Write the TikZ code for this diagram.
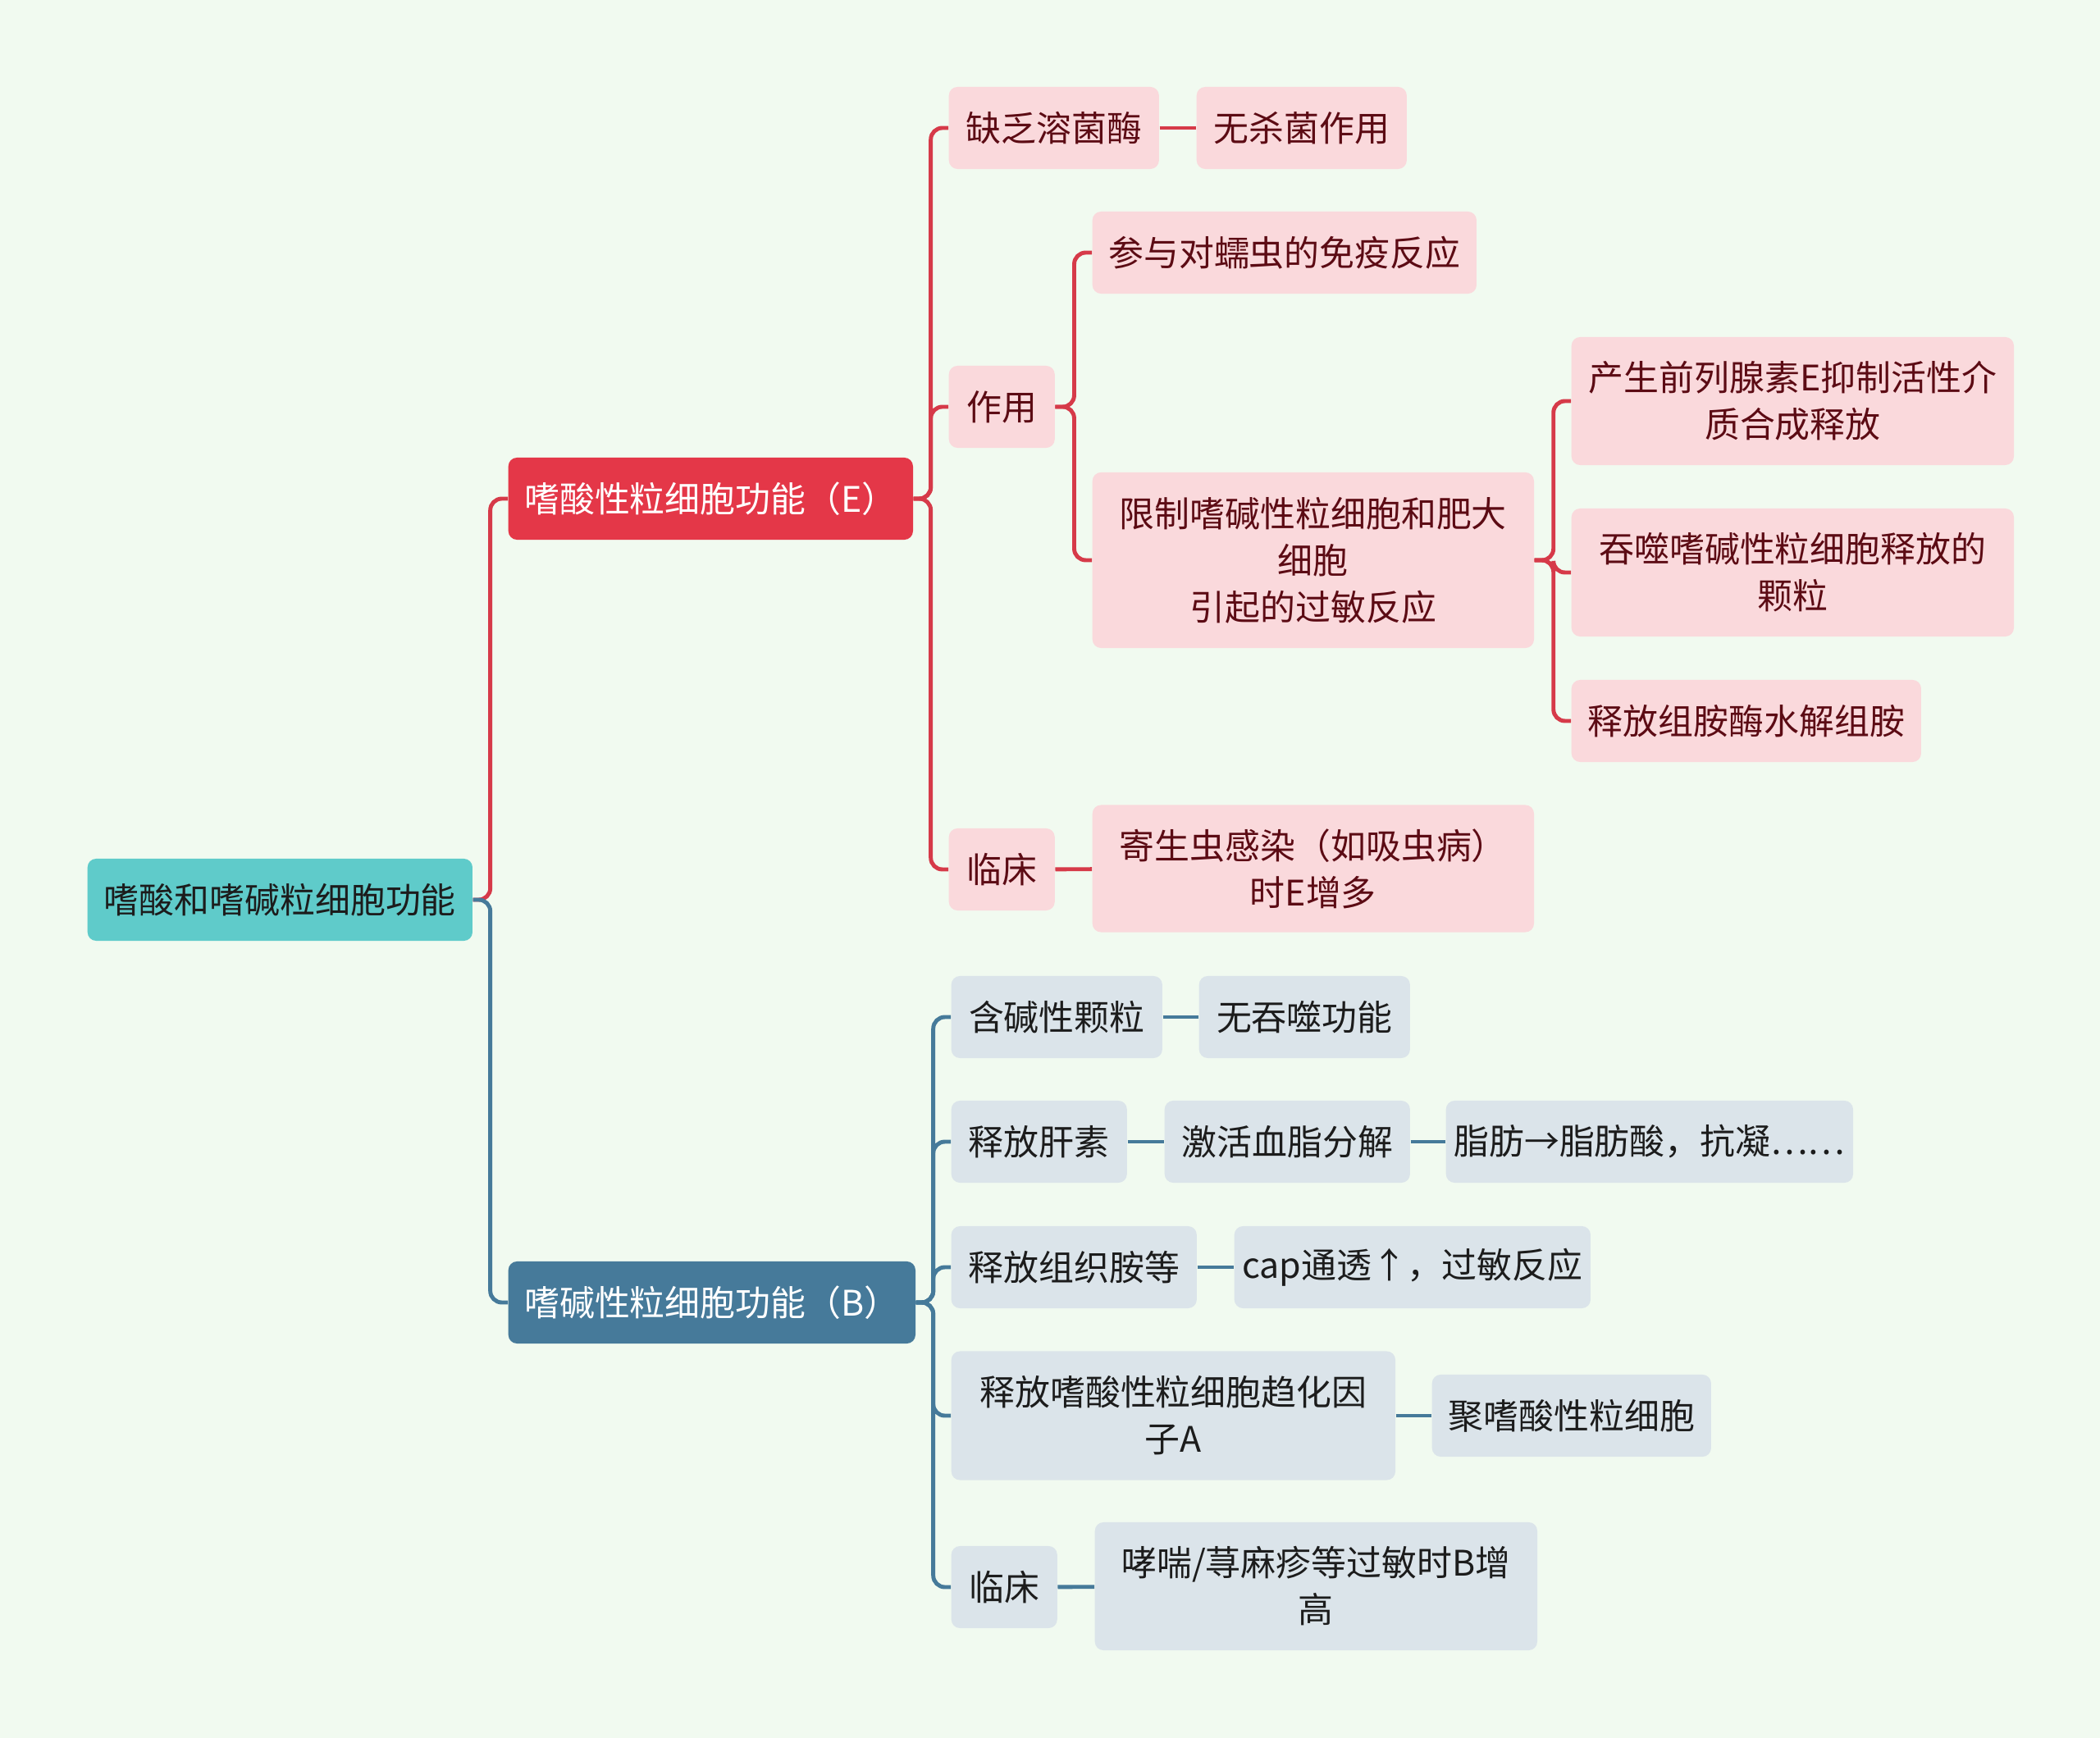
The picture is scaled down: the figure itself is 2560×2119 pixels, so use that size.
\documentclass[tikz,border=0pt]{standalone}
\usepackage{fontspec}
\setmainfont{Noto Sans CJK SC}
\usetikzlibrary{positioning}
\definecolor{bgc}{HTML}{F1FAF0}
\definecolor{rootc}{HTML}{5FCBCA}
\definecolor{redc}{HTML}{E43748}
\definecolor{redl}{HTML}{D63A49}
\definecolor{pinkc}{HTML}{FAD9DC}
\definecolor{redt}{HTML}{5C0B14}
\definecolor{bluec}{HTML}{467A9A}
\definecolor{greyc}{HTML}{DBE4EA}
\definecolor{bluet}{HTML}{1C1C1C}

\begin{document}
\begin{tikzpicture}[x=0.01cm,y=-0.01cm,
  box/.style={anchor=west,rounded corners=3pt,align=center,inner sep=0pt,
    minimum height=1cm,font=\fontsize{12.2pt}{16.2pt}\selectfont},
  rootbox/.style={box,fill=rootc,text=bluet},
  ehead/.style={box,fill=redc,text=white},
  bhead/.style={box,fill=bluec,text=white},
  ebox/.style={box,fill=pinkc,text=redt},
  bbox/.style={box,fill=greyc,text=bluet},
  eline/.style={draw=redl,line width=1.4pt,rounded corners=4pt},
  bline/.style={draw=bluec,line width=1.4pt,rounded corners=4pt}]
\fill[bgc] (0,0) rectangle (2560,2119);

% root and the two main branches
\node[rootbox,minimum width=4.69cm] (root) at (106,1097) {嗜酸和嗜碱粒细胞功能};
\node[ehead,minimum width=4.93cm] (eos) at (619,608) {嗜酸性粒细胞功能（E）};
\node[bhead,minimum width=4.96cm] (bas) at (619,1588) {嗜碱性粒细胞功能（B）};

% eosinophil side
\node[ebox,minimum width=2.56cm] (lack) at (1156,156) {缺乏溶菌酶};
\node[ebox,minimum width=2.56cm] (nokill) at (1458,156) {无杀菌作用};
\node[ebox,minimum width=1.29cm] (role) at (1156,496) {作用};
\node[ebox,minimum width=4.68cm] (worm) at (1331,308) {参与对蠕虫的免疫反应};
\node[ebox,minimum width=5.38cm,minimum height=2.14cm] (limit) at (1331,683)
  {限制嗜碱性粒细胞和肥大\\细胞\\引起的过敏反应};
\node[ebox,minimum width=5.39cm,minimum height=1.56cm] (pge) at (1915,489)
  {产生前列腺素E抑制活性介\\质合成释放};
\node[ebox,minimum width=5.39cm,minimum height=1.56cm] (phago) at (1915,698)
  {吞噬嗜碱性粒细胞释放的\\颗粒};
\node[ebox,minimum width=4.26cm] (histase) at (1915,879) {释放组胺酶水解组胺};
\node[ebox,minimum width=1.29cm] (eclin) at (1156,1060) {临床};
\node[ebox,minimum width=5.38cm,minimum height=1.55cm] (parasite) at (1331,1059)
  {寄生虫感染（如吸虫病）\\时E增多};

% basophil side
\node[bbox,minimum width=2.57cm] (gran) at (1159,1240) {含碱性颗粒};
\node[bbox,minimum width=2.57cm] (nophago) at (1461,1240) {无吞噬功能};
\node[bbox,minimum width=2.14cm] (hep) at (1159,1392) {释放肝素};
\node[bbox,minimum width=2.99cm] (lipid) at (1419,1392) {激活血脂分解};
\node[bbox,minimum width=4.96cm] (fat) at (1762,1392) {脂肪→脂肪酸，抗凝……};
\node[bbox,minimum width=2.99cm] (histb) at (1159,1545) {释放组织胺等};
\node[bbox,minimum width=4.34cm] (cap) at (1504,1545) {cap通透↑，过敏反应};
\node[bbox,minimum width=5.41cm,minimum height=1.57cm] (ecf) at (1159,1726)
  {释放嗜酸性粒细胞趋化因\\子A};
\node[bbox,minimum width=3.40cm] (gather) at (1745,1726) {聚嗜酸性粒细胞};
\node[bbox,minimum width=1.29cm] (bclin) at (1159,1935) {临床};
\node[bbox,minimum width=5.39cm,minimum height=1.56cm] (asthma) at (1334,1934)
  {哮喘/荨麻疹等过敏时B增\\高};

% connectors
\draw[eline] (root.east) -- ++(21,0) |- (eos.west);
\draw[bline] (root.east) -- ++(21,0) |- (bas.west);
\foreach \c in {lack,role,eclin}
  \draw[eline] (eos.east) -- ++(21,0) |- (\c.west);
\draw[eline] (lack) -- (nokill);
\draw[eline] (eclin) -- (parasite);
\foreach \c in {worm,limit}
  \draw[eline] (role.east) -- ++(23,0) |- (\c.west);
\foreach \c in {pge,phago,histase}
  \draw[eline] (limit.east) -- ++(23,0) |- (\c.west);
\foreach \c in {gran,hep,histb,ecf,bclin}
  \draw[bline] (bas.east) -- ++(21,0) |- (\c.west);
\draw[bline] (gran) -- (nophago);
\draw[bline] (hep) -- (lipid);
\draw[bline] (lipid) -- (fat);
\draw[bline] (histb) -- (cap);
\draw[bline] (ecf) -- (gather);
\draw[bline] (bclin) -- (asthma);
\end{tikzpicture}
\end{document}
